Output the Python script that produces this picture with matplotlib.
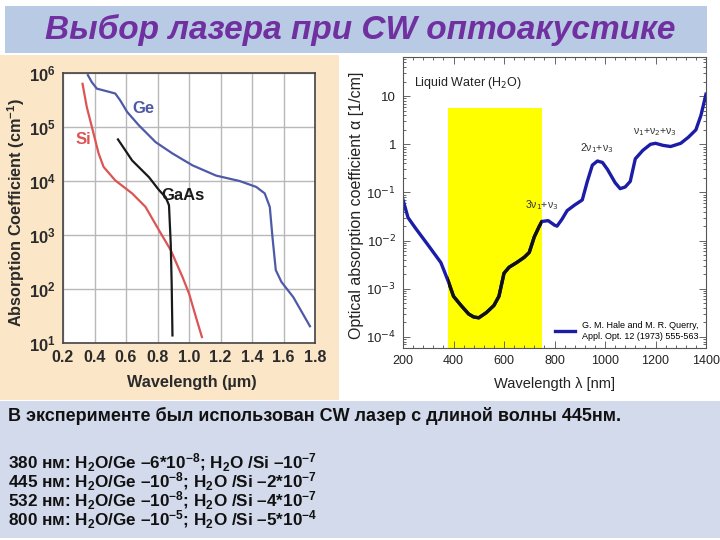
import matplotlib
matplotlib.use("Agg")
import matplotlib.pyplot as plt
from matplotlib.patches import Rectangle
from matplotlib.ticker import FixedLocator, MultipleLocator, LogLocator, NullFormatter
import numpy as np

plt.rcParams['mathtext.fontset'] = 'custom'
plt.rcParams['mathtext.rm'] = 'Liberation Sans:bold'
plt.rcParams['mathtext.bf'] = 'Liberation Sans:bold'
plt.rcParams['mathtext.it'] = 'Liberation Sans:bold'
plt.rcParams['mathtext.default'] = 'rm'

SANS = ['Liberation Sans', 'DejaVu Sans']

# ---------------- data: left chart (semiconductors) ----------------
ge_wl = [0.358, 0.383, 0.415, 0.468, 0.532, 0.564, 0.607, 0.682, 0.788, 0.895,
         1.022, 1.172, 1.321, 1.427, 1.481, 1.513, 1.530, 1.551, 1.587, 1.662, 1.768]
ge_log = [5.96, 5.83, 5.71, 5.67, 5.62, 5.49, 5.28, 5.03, 4.72, 4.51,
          4.29, 4.10, 4.00, 3.89, 3.77, 3.52, 2.96, 2.35, 2.13, 1.85, 1.31]
si_wl = [0.324, 0.351, 0.394, 0.426, 0.458, 0.532, 0.639, 0.724, 0.809, 0.884,
         0.959, 1.001, 1.044, 1.082]
si_log = [5.80, 5.37, 4.88, 4.51, 4.26, 4.01, 3.77, 3.52, 3.09, 2.72,
          2.22, 1.91, 1.48, 1.11]
gaas_wl = [0.549, 0.639, 0.746, 0.810, 0.852, 0.873, 0.884, 0.890, 0.895]
gaas_log = [4.77, 4.38, 4.07, 3.83, 3.70, 3.55, 2.84, 2.10, 1.14]
left_xticks = [0.2, 0.4, 0.6, 0.8, 1.0, 1.2, 1.4, 1.6, 1.8]
left_xticklabels = ['0.2', '0.4', '0.6', '0.8', '1.0', '1.2', '1.4', '1.6', '1.8']
left_yexp = [1, 2, 3, 4, 5, 6]

# ---------------- data: right chart (water) ----------------
w_wl = [200, 220, 250, 300, 350, 380, 400, 430, 460, 480, 500, 530, 560, 580,
        600, 620, 650, 680, 700, 720, 740, 750, 775, 800, 810, 830, 850, 880,
        910, 930, 950, 970, 990, 1010, 1040, 1060, 1080, 1100, 1120, 1150,
        1180, 1200, 1230, 1260, 1300, 1330, 1360, 1380, 1400]
w_alpha = [0.07, 0.03, 0.018, 0.008, 0.0035, 0.0014, 7e-4, 4.5e-4, 3e-4, 2.6e-4,
           2.5e-4, 3.2e-4, 4.5e-4, 7e-4, 2.1e-3, 2.8e-3, 3.5e-3, 4.5e-3, 5.7e-3,
           0.012, 0.02, 0.025, 0.026, 0.021, 0.02, 0.028, 0.042, 0.055, 0.07,
           0.17, 0.37, 0.45, 0.42, 0.3, 0.16, 0.12, 0.13, 0.17, 0.5, 0.75, 1.0,
           1.05, 0.95, 0.9, 1.05, 1.4, 2.0, 4.0, 11.0]
yellow_wl = (380, 750)
yellow_top = 5.6
right_xticks = [200, 400, 600, 800, 1000, 1200, 1400]
right_yticks = [1e-4, 1e-3, 1e-2, 1e-1, 1, 10]
right_yticklabels = ['10$^{-4}$', '10$^{-3}$', '10$^{-2}$', '10$^{-1}$', '1', '10']

title = 'Выбор лазера при CW оптоакустике'
line1 = 'В эксперименте был использован CW лазер с длиной волны 445нм.'
rows = ['380 нм: H$_2$O/Ge –6*10$^{-8}$; H$_2$O /Si –10$^{-7}$',
        '445 нм: H$_2$O/Ge –10$^{-8}$; H$_2$O /Si –2*10$^{-7}$',
        '532 нм: H$_2$O/Ge –10$^{-8}$; H$_2$O /Si –4*10$^{-7}$',
        '800 нм: H$_2$O/Ge –10$^{-5}$; H$_2$O /Si –5*10$^{-4}$']

W, H = 720, 540
fig = plt.figure(figsize=(7.2, 5.4), dpi=100)
fig.patch.set_facecolor('white')


def frect(x0, y0, x1, y1, color):
    fig.patches.append(Rectangle((x0 / W, 1 - y1 / H), (x1 - x0) / W, (y1 - y0) / H,
                                 transform=fig.transFigure, facecolor=color,
                                 edgecolor='none', zorder=-5))


frect(5, 6, 707, 53, '#b9cbe4')
frect(0, 55, 339, 400, '#fbe6c8')
frect(0, 401, 720, 538, '#d2daeb')

fig.text(360 / W, 1 - 30 / H, title, ha='center', va='center', fontsize=24,
         fontweight='bold', fontstyle='italic', color='#7030a0', family=SANS)

# ---------------- left axes ----------------
axL = fig.add_axes([63 / W, 1 - 343 / H, 252 / W, 270 / H])
axL.set_facecolor('white')
axL.set_yscale('log')
axL.set_xlim(0.2, 1.8)
axL.set_ylim(10, 1e6)
axL.plot(ge_wl, [10 ** v for v in ge_log], color='#4e5aa8', lw=1.6)
axL.plot(si_wl, [10 ** v for v in si_log], color='#dc5454', lw=1.6)
axL.plot(gaas_wl, [10 ** v for v in gaas_log], color='#1a1a1a', lw=1.6)
axL.text(0.71, 10 ** 5.34, 'Ge', color='#4e5aa8', fontsize=12, fontweight='bold',
         ha='center', va='center', family=SANS)
axL.text(0.33, 10 ** 4.77, 'Si', color='#dc5454', fontsize=12, fontweight='bold',
         ha='center', va='center', family=SANS)
axL.text(0.965, 10 ** 3.73, 'GaAs', color='#1a1a1a', fontsize=12, fontweight='bold',
         ha='center', va='center', family=SANS)
axL.xaxis.set_major_locator(FixedLocator(left_xticks))
axL.set_xticklabels(left_xticklabels, fontsize=11.5, fontweight='bold',
                    color='#2b2b2b', family=SANS)
axL.yaxis.set_major_locator(FixedLocator([10.0 ** e for e in left_yexp]))
axL.yaxis.set_minor_locator(FixedLocator([]))
axL.set_yticklabels(['10$^{%d}$' % e for e in left_yexp], fontsize=12,
                    fontweight='bold', color='#2b2b2b', family=SANS)
axL.tick_params(length=0, pad=5)
axL.grid(True, color='#b8b8b8', lw=1.0)
for s in axL.spines.values():
    s.set_color('#444444')
    s.set_linewidth(1.2)
fig.text(16 / W, 1 - 213 / H, 'Absorption Coefficient (cm$^{-1}$)', rotation=90,
         ha='center', va='center', fontsize=11.7, fontweight='bold', color='#2b2b2b',
         family=SANS)
fig.text(192 / W, 1 - 383 / H, 'Wavelength (µm)', ha='center', va='center',
         fontsize=11.7, fontweight='bold', color='#2b2b2b', family=SANS)

# ---------------- right axes ----------------
axR = fig.add_axes([403 / W, 1 - 348 / H, 303 / W, 291 / H])
axR.set_yscale('log')
axR.set_xlim(200, 1400)
axR.set_ylim(5.9e-5, 65)
rect = Rectangle((yellow_wl[0], 1e-6), yellow_wl[1] - yellow_wl[0], yellow_top - 1e-6,
                 facecolor='#ffff00', edgecolor='none', zorder=1)
axR.add_patch(rect)
blue, = axR.plot(w_wl, w_alpha, color='#1c1ca6', lw=2.4, zorder=2,
                 label='G. M. Hale and M. R. Querry,\nAppl. Opt. 12 (1973) 555-563')
blk, = axR.plot(w_wl, w_alpha, color='#111111', lw=2.4, zorder=3)
blk.set_clip_path(rect)
MF = 'dejavusans'
axR.text(242, 19, 'Liquid Water (H$_2$O)', fontsize=9, color='#222222',
         ha='left', va='center', family=SANS, math_fontfamily=MF)
axR.text(750, 0.055, '3ν$_1$+ν$_3$', fontsize=7.5, color='#333333', ha='center',
         va='center', family=SANS, math_fontfamily=MF)
axR.text(967, 0.83, '2ν$_1$+ν$_3$', fontsize=7.5, color='#333333', ha='center',
         va='center', family=SANS, math_fontfamily=MF)
axR.text(1198, 1.82, 'ν$_1$+ν$_2$+ν$_3$', fontsize=7.5, color='#333333', ha='center',
         va='center', family=SANS, math_fontfamily=MF)
leg = axR.legend(handles=[blue], loc='lower right', frameon=False,
                 handlelength=2.2, borderaxespad=0.4, prop={'family': SANS, 'size': 6.5})
axR.xaxis.set_major_locator(FixedLocator(right_xticks))
axR.xaxis.set_minor_locator(MultipleLocator(40))
axR.set_xticklabels([str(v) for v in right_xticks], fontsize=9, color='#222222',
                    family=SANS)
axR.yaxis.set_major_locator(FixedLocator(right_yticks))
axR.yaxis.set_minor_locator(LogLocator(base=10, subs=np.arange(2, 10)))
axR.yaxis.set_minor_formatter(NullFormatter())
axR.set_yticklabels(right_yticklabels, fontsize=9.5, color='#222222', family=SANS,
                    math_fontfamily=MF)
axR.tick_params(which='both', direction='in', top=True, right=True, color='#666666',
                width=0.7)
axR.tick_params(which='major', length=5, pad=5)
axR.tick_params(which='minor', length=2.5)
for s in axR.spines.values():
    s.set_color('#555555')
    s.set_linewidth(0.8)
fig.text(357 / W, 1 - 205 / H, 'Optical absorption coefficient α [1/cm]', rotation=90,
         ha='center', va='center', fontsize=11.5, color='#222222', family=SANS)
fig.text(555 / W, 1 - 384 / H, 'Wavelength λ [nm]', ha='center', va='center',
         fontsize=10.5, color='#222222', family=SANS)

# ---------------- bottom text ----------------
fig.text(8 / W, 1 - 416 / H, line1, ha='left', va='center', fontsize=13,
         fontweight='bold', color='#111111', family=SANS)
for i, r in enumerate(rows):
    fig.text(8 / W, 1 - (463 + 18.8 * i) / H, r, ha='left', va='center', fontsize=12.3,
             fontweight='bold', color='#111111', family=SANS)

fig.savefig('out.png', dpi=100)
